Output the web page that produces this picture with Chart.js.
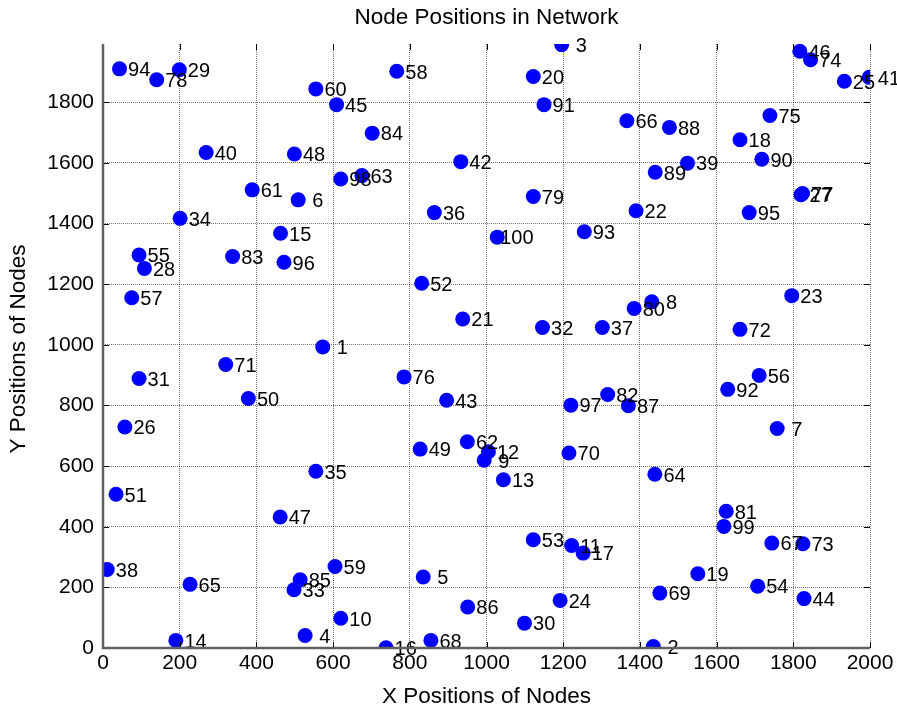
<!DOCTYPE html>
<html>
<head>
<meta charset="utf-8">
<title>Node Positions in Network</title>
<script src="https://cdn.jsdelivr.net/npm/chart.js@4.4.1/dist/chart.umd.min.js"></script>
<style>
  html, body { margin: 0; padding: 0; background: #fff; }
  #wrap { width: 897px; height: 711px; }
</style>
</head>
<body>
<div id="wrap"><canvas id="nodeChart" width="897" height="711"></canvas></div>
<script>
// node coordinates (node id = index + 1)
const nodeX = [
  573, 1435, 1196, 527, 835, 509, 1758, 1431, 994, 620,
  1222, 1005, 1044, 190, 463, 738, 1252, 1661, 1551, 1122,
  938, 1390, 1796, 1192, 1933, 57, 1820, 108, 199, 1099,
  94, 1146, 498, 201, 555, 864, 1302, 11, 1524, 269,
  1998, 933, 896, 1828, 609, 1817, 462, 499, 827, 379,
  34, 831, 1122, 1707, 94, 1711, 75, 766, 605, 555,
  389, 950, 675, 1439, 227, 1366, 1744, 855, 1452, 1215,
  320, 1661, 1825, 1845, 1739, 785, 1824, 140, 1122, 1385,
  1625, 1316, 338, 702, 514, 951, 1370, 1477, 1440, 1718,
  1150, 1629, 1255, 43, 1685, 472, 1220, 620, 1619, 1028
];
const nodeY = [
  993, 5, 1990, 41, 234, 1478, 724, 1142, 619, 98,
  338, 647, 555, 25, 1368, 1, 313, 1676, 245, 1885,
  1085, 1442, 1162, 157, 1869, 729, 1495, 1252, 1907, 82,
  889, 1057, 192, 1417, 583, 1436, 1057, 259, 1599, 1634,
  1882, 1604, 817, 163, 1792, 1968, 432, 1629, 656, 823,
  507, 1203, 357, 204, 1296, 899, 1155, 1902, 269, 1844,
  1511, 680, 1558, 573, 210, 1739, 346, 25, 181, 643,
  935, 1051, 344, 1940, 1756, 894, 1499, 1874, 1489, 1120,
  451, 836, 1291, 1698, 225, 135, 799, 1717, 1569, 1612,
  1792, 853, 1373, 1910, 1436, 1272, 801, 1547, 401, 1355
];

const xTicks = [0, 200, 400, 600, 800, 1000, 1200, 1400, 1600, 1800, 2000];
const yTicks = [0, 200, 400, 600, 800, 1000, 1200, 1400, 1600, 1800];

const FONT = "'Liberation Sans', Arial, sans-serif";

// labels next to every node, padded like a 3-wide number field
const nodeLabels = {
  id: 'nodeLabels',
  afterDatasetsDraw(chart) {
    const ctx = chart.ctx;
    const meta = chart.getDatasetMeta(0);
    ctx.save();
    ctx.font = '20px ' + FONT;
    ctx.fillStyle = '#000';
    ctx.textAlign = 'left';
    ctx.textBaseline = 'alphabetic';
    const space = ctx.measureText(' ').width;
    meta.data.forEach((pt, i) => {
      const txt = String(i + 1);
      const pad = space * (3 - txt.length);
      ctx.fillText(txt, pt.x + 3 + pad, pt.y + 7.3);
    });
    ctx.restore();
  }
};

// axis lines, inward ticks on all four sides, titles
const frame = {
  id: 'frame',
  afterDraw(chart) {
    const { ctx, chartArea: a, scales } = chart;
    ctx.save();
    ctx.strokeStyle = '#000';
    ctx.lineWidth = 1;
    ctx.beginPath();
    xTicks.forEach(v => {
      const px = Math.round(scales.x.getPixelForValue(v)) + 0.5;
      ctx.moveTo(px, a.bottom); ctx.lineTo(px, a.bottom - 6);
      ctx.moveTo(px, a.top); ctx.lineTo(px, a.top + 6);
    });
    yTicks.forEach(v => {
      const py = Math.round(scales.y.getPixelForValue(v)) + 0.5;
      ctx.moveTo(a.left, py); ctx.lineTo(a.left + 6, py);
      ctx.moveTo(a.right, py); ctx.lineTo(a.right - 6, py);
    });
    ctx.stroke();

    ctx.strokeStyle = '#606060';
    ctx.lineWidth = 2.5;
    ctx.beginPath();
    ctx.moveTo(a.left, a.top);
    ctx.lineTo(a.left, a.bottom);
    ctx.lineTo(a.right, a.bottom);
    ctx.stroke();

    ctx.fillStyle = '#000';
    ctx.textAlign = 'center';
    ctx.textBaseline = 'middle';
    const cx = (a.left + a.right) / 2;
    ctx.font = '22.5px ' + FONT;
    ctx.fillText('Node Positions in Network', cx, 18);
    ctx.fillText('X Positions of Nodes', cx, 697);
    ctx.translate(19, (a.top + a.bottom) / 2 + 3);
    ctx.rotate(-Math.PI / 2);
    ctx.fillText('Y Positions of Nodes', 0, 0);
    ctx.restore();
  }
};

new Chart(document.getElementById('nodeChart').getContext('2d'), {
  type: 'scatter',
  data: {
    datasets: [{
      data: nodeX.map((x, i) => ({ x, y: nodeY[i] })),
      backgroundColor: '#0000ff',
      borderColor: '#0000ff',
      borderWidth: 0,
      pointRadius: 7.5,
      pointHoverRadius: 7.5,
    }],
  },
  options: {
    responsive: false,
    animation: false,
    devicePixelRatio: 1,
    layout: { padding: { top: 44, right: 27, left: 0, bottom: 0 } },
    plugins: {
      legend: { display: false },
      title: { display: false },
      tooltip: { enabled: false },
    },
    scales: {
      x: {
        type: 'linear',
        min: 0,
        max: 2000,
        afterFit: (s) => { s.height = 63; },
        afterBuildTicks: (s) => { s.ticks = xTicks.map(v => ({ value: v })); },
        grid: { color: 'rgba(0,0,0,0.55)', lineWidth: 1, drawTicks: false },
        border: { display: false, dash: [1, 1] },
        ticks: {
          color: '#000', padding: 3, font: { family: FONT, size: 21 },
          callback: (v) => String(v),
        },
      },
      y: {
        type: 'linear',
        min: 0,
        max: 1992,
        afterFit: (s) => { s.width = 103; },
        afterBuildTicks: (s) => { s.ticks = yTicks.map(v => ({ value: v })); },
        grid: { color: 'rgba(0,0,0,0.55)', lineWidth: 1, drawTicks: false },
        border: { display: false, dash: [1, 1] },
        ticks: {
          color: '#000', padding: 9, font: { family: FONT, size: 21 },
          callback: (v) => String(v),
        },
      },
    },
  },
  plugins: [nodeLabels, frame],
});
</script>
</body>
</html>
